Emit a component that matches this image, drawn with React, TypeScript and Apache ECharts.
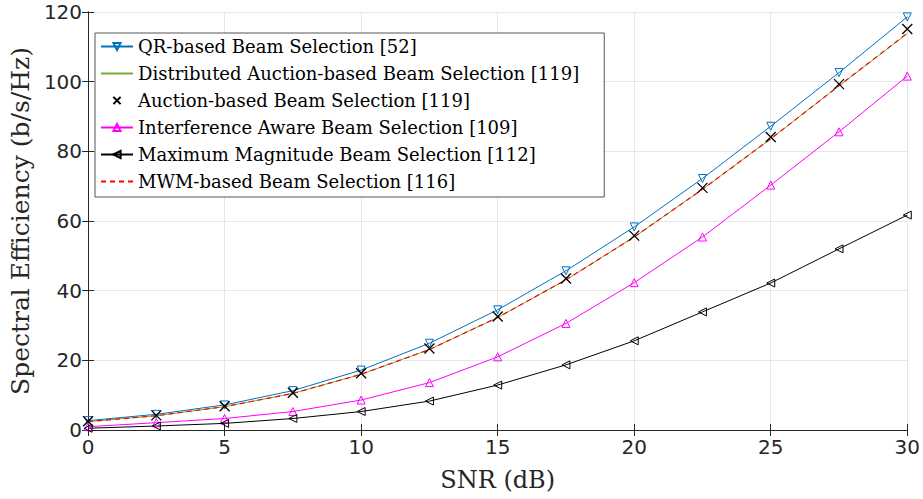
import React, { useEffect, useRef } from "react";
import * as echarts from "echarts";

const snr = [0, 2.5, 5, 7.5, 10, 12.5, 15, 17.5, 20, 22.5, 25, 27.5, 30];
const qrBased = [2.7, 4.5, 7.2, 11.3, 17.2, 24.9, 34.5, 45.7, 58.3, 72.2, 87.2, 102.6, 118.6];
const distributedAuction = [2.4, 4.1, 6.7, 10.5, 16.0, 23.1, 32.3, 43.1, 55.4, 69.1, 83.6, 98.8, 113.8];
const auctionBased = [2.5, 4.2, 6.8, 10.7, 16.3, 23.4, 32.6, 43.5, 55.8, 69.5, 84.1, 99.3, 115.1];
const interferenceAware = [0.95, 2.1, 3.3, 5.3, 8.6, 13.6, 21.0, 30.6, 42.3, 55.4, 70.3, 85.6, 101.6];
const maxMagnitude = [0.5, 1.15, 1.9, 3.3, 5.3, 8.3, 12.9, 18.7, 25.6, 33.9, 42.2, 52.0, 61.7];
const mwmBased = [2.4, 4.1, 6.7, 10.5, 16.0, 23.1, 32.3, 43.1, 55.4, 69.1, 83.6, 98.8, 113.9];

const names = [
  "QR-based Beam Selection [52]",
  "Distributed Auction-based Beam Selection [119]",
  "Auction-based Beam Selection [119]",
  "Interference Aware Beam Selection [109]",
  "Maximum Magnitude Beam Selection [112]",
  "MWM-based Beam Selection [116]",
];

const xTicks = { min: 0, max: 30, interval: 5 };
const yTicks = { min: 0, max: 120, interval: 20 };

const pts = (ys: number[]) => snr.map((x, i) => [x, ys[i]]);

const SERIF = "'DejaVu Serif', 'Liberation Serif', serif";
const SANS = "'DejaVu Sans', 'Liberation Sans', sans-serif";
const AXIS = "#262626";

export default function App() {
  const ref = useRef<HTMLDivElement>(null);
  useEffect(() => {
    if (!ref.current) return;
    const chart = echarts.init(ref.current, undefined, { renderer: "svg" });
    const tickCommon = {
      axisLine: { show: true, lineStyle: { color: AXIS, width: 1 } },
      axisTick: { show: true, inside: true, length: 6, lineStyle: { color: AXIS } },
    };
    const noSymbolLegend = { itemStyle: { opacity: 0 } };
    chart.setOption({
      animation: false,
      backgroundColor: "#ffffff",
      grid: { left: 88, right: 14, top: 12, bottom: 69, containLabel: false },
      legend: {
        orient: "vertical",
        left: 95,
        top: 33,
        data: [
          { name: names[0] },
          { name: names[1], ...noSymbolLegend },
          { name: names[2] },
          { name: names[3] },
          { name: names[4] },
          { name: names[5], ...noSymbolLegend },
        ],
        itemWidth: 32,
        itemHeight: 9,
        itemGap: 0,
        padding: [0, 25, 2, 5],
        borderColor: "#555555",
        borderWidth: 1,
        borderRadius: 0,
        backgroundColor: "#ffffff",
        textStyle: { fontFamily: SERIF, fontSize: 18, color: "#000", lineHeight: 27 },
      },
      xAxis: [
        {
          type: "value",
          ...xTicks,
          position: "bottom",
          name: "SNR (dB)",
          nameLocation: "middle",
          nameGap: 38,
          nameTextStyle: { fontFamily: SERIF, fontSize: 24, color: AXIS },
          axisLabel: { fontFamily: SANS, fontSize: 20, color: AXIS, margin: 7 },
          splitLine: { show: true, lineStyle: { color: "#e6e6e6", width: 1 } },
          ...tickCommon,
        },
        {
          type: "value",
          ...xTicks,
          position: "top",
          axisLabel: { show: false },
          splitLine: { show: false },
          ...tickCommon,
        },
      ],
      yAxis: [
        {
          type: "value",
          ...yTicks,
          position: "left",
          name: "Spectral Efficiency (b/s/Hz)",
          nameLocation: "middle",
          nameGap: 55,
          nameTextStyle: { fontFamily: SERIF, fontSize: 25, color: AXIS },
          axisLabel: { fontFamily: SANS, fontSize: 20, color: AXIS, margin: 6 },
          splitLine: { show: true, lineStyle: { color: "#e6e6e6", width: 1 } },
          ...tickCommon,
        },
        {
          type: "value",
          ...yTicks,
          position: "right",
          axisLabel: { show: false },
          splitLine: { show: false },
          ...tickCommon,
        },
      ],
      series: [
        {
          name: names[0],
          type: "line",
          data: pts(qrBased),
          symbol: "triangle",
          symbolRotate: 180,
          symbolSize: 8,
          showAllSymbol: true,
          lineStyle: { color: "#0072BD", width: 1 },
          itemStyle: { color: "none", borderColor: "#0072BD", borderWidth: 1 },
          z: 3,
        },
        {
          name: names[1],
          type: "line",
          data: pts(distributedAuction),
          symbol: "none",
          lineStyle: { color: "#77AC30", width: 1 },
          itemStyle: { color: "#77AC30" },
          z: 2,
        },
        {
          name: names[2],
          type: "line",
          data: pts(auctionBased),
          symbol: "path://M0,0L10,10M10,0L0,10",
          symbolSize: 10,
          showAllSymbol: true,
          lineStyle: { color: "#000000", width: 0, opacity: 0 },
          itemStyle: { color: "#000000", borderColor: "#000000", borderWidth: 1.3 },
          z: 6,
        },
        {
          name: names[3],
          type: "line",
          data: pts(interferenceAware),
          symbol: "triangle",
          symbolSize: 8,
          showAllSymbol: true,
          lineStyle: { color: "#FF00FF", width: 1 },
          itemStyle: { color: "none", borderColor: "#FF00FF", borderWidth: 1 },
          z: 3,
        },
        {
          name: names[4],
          type: "line",
          data: pts(maxMagnitude),
          symbol: "triangle",
          symbolRotate: 90,
          symbolSize: 8,
          showAllSymbol: true,
          lineStyle: { color: "#000000", width: 1 },
          itemStyle: { color: "none", borderColor: "#000000", borderWidth: 1 },
          z: 3,
        },
        {
          name: names[5],
          type: "line",
          data: pts(mwmBased),
          symbol: "none",
          lineStyle: { color: "#FF0000", width: 1.2, type: [5, 4] },
          itemStyle: { color: "#FF0000" },
          z: 4,
        },
      ],
    });
    return () => chart.dispose();
  }, []);
  return <div ref={ref} style={{ width: 923, height: 499, position: "absolute", left: 0, top: 0 }} />;
}
